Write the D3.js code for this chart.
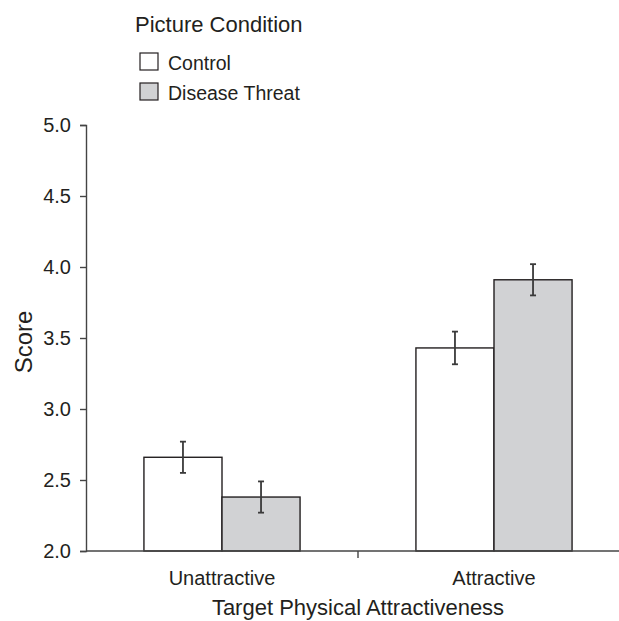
<!DOCTYPE html>
<html>
<head>
<meta charset="utf-8">
<script src="https://cdn.jsdelivr.net/npm/d3@7"></script>
<style>
  body { margin: 0; background: #fff; }
  svg text { font-family: "Liberation Sans", Arial, sans-serif; fill: #231f20; }
</style>
</head>
<body>
<div id="chart"></div>
<script>
const categories = ["Unattractive", "Attractive"];
const series = ["Control", "Disease Threat"];
const controlMeans = [2.66, 3.43];
const threatMeans = [2.38, 3.91];
const controlErr = [0.11, 0.115];
const threatErr = [0.11, 0.11];
const yTicks = [2.0, 2.5, 3.0, 3.5, 4.0, 4.5, 5.0];

const W = 619, H = 621;
const margin = { top: 125, left: 86, bottom: 70 };
const ink = "#231f20";
const fills = { "Control": "#ffffff", "Disease Threat": "#d1d2d4" };

const rows = categories.map((c, i) => ({
  cat: c,
  values: [
    { key: series[0], v: controlMeans[i], e: controlErr[i] },
    { key: series[1], v: threatMeans[i], e: threatErr[i] }
  ]
}));

const svg = d3.select("#chart").append("svg")
  .attr("width", W).attr("height", H);

const y = d3.scaleLinear().domain([2, 5]).range([H - margin.bottom, margin.top]);
const x0 = d3.scaleBand().domain(categories).range([margin.left, 630])
  .paddingInner(0.426).paddingOuter(0.213);
const x1 = d3.scaleBand().domain(series).range([0, x0.bandwidth()]);

// bars
const groups = svg.selectAll(".grp").data(rows).join("g")
  .attr("class", "grp")
  .attr("transform", d => `translate(${x0(d.cat)},0)`);

groups.selectAll("rect").data(d => d.values).join("rect")
  .attr("x", d => x1(d.key))
  .attr("y", d => y(d.v))
  .attr("width", x1.bandwidth())
  .attr("height", d => y(2) - y(d.v))
  .attr("fill", d => fills[d.key])
  .attr("stroke", ink)
  .attr("stroke-width", 1.4);

// error bars
const eb = groups.selectAll(".err").data(d => d.values).join("g")
  .attr("class", "err")
  .attr("stroke", "#3a3a3a")
  .attr("stroke-width", 1.8);
eb.append("line")
  .attr("x1", d => x1(d.key) + x1.bandwidth() / 2)
  .attr("x2", d => x1(d.key) + x1.bandwidth() / 2)
  .attr("y1", d => y(d.v + d.e))
  .attr("y2", d => y(d.v - d.e));
[1, -1].forEach(s => {
  eb.append("line")
    .attr("x1", d => x1(d.key) + x1.bandwidth() / 2 - 3)
    .attr("x2", d => x1(d.key) + x1.bandwidth() / 2 + 3)
    .attr("y1", d => y(d.v + s * d.e))
    .attr("y2", d => y(d.v + s * d.e));
});

// y axis
const gy = svg.append("g").attr("transform", `translate(${margin.left},0)`)
  .call(d3.axisLeft(y).tickValues(yTicks).tickFormat(d3.format(".1f")).tickSize(6).tickPadding(9));
gy.select(".domain").attr("stroke", "#444").attr("stroke-width", 1.4);
gy.selectAll(".tick line").attr("stroke", "#444").attr("stroke-width", 1.4);
gy.selectAll("text").style("font-size", "20px").attr("fill", ink);

// x axis
const gx = svg.append("g").attr("transform", `translate(0,${y(2)})`)
  .call(d3.axisBottom(x0).tickSize(0).tickPadding(20));
gx.select(".domain").remove();
gx.selectAll("text").style("font-size", "20px").attr("fill", ink);
gx.append("line")
  .attr("x1", margin.left).attr("x2", W)
  .attr("stroke", "#444").attr("stroke-width", 1.4);
const sep = (x0(categories[0]) + x0.bandwidth() + x0(categories[1])) / 2;
gx.append("line")
  .attr("x1", sep).attr("x2", sep).attr("y1", 0).attr("y2", 7)
  .attr("stroke", "#444").attr("stroke-width", 1.4);

// axis titles
svg.append("text")
  .attr("x", (margin.left + 630) / 2).attr("y", 615)
  .attr("text-anchor", "middle")
  .style("font-size", "22px")
  .text("Target Physical Attractiveness");

svg.append("text")
  .attr("transform", `translate(32,${(y(2) + y(5)) / 2 + 4}) rotate(-90)`)
  .attr("text-anchor", "middle")
  .style("font-size", "24px")
  .text("Score");

// legend
const legend = svg.append("g").attr("transform", "translate(135,0)");
legend.append("text")
  .attr("x", 0).attr("y", 32)
  .style("font-size", "22px")
  .text("Picture Condition");
const items = legend.selectAll(".item").data(series).join("g")
  .attr("class", "item")
  .attr("transform", (d, i) => `translate(5,${53 + i * 30})`);
items.append("rect")
  .attr("width", 18).attr("height", 17)
  .attr("fill", d => fills[d])
  .attr("stroke", ink).attr("stroke-width", 1.2);
items.append("text")
  .attr("x", 28).attr("y", 17)
  .style("font-size", "19.5px")
  .text(d => d);
</script>
</body>
</html>
